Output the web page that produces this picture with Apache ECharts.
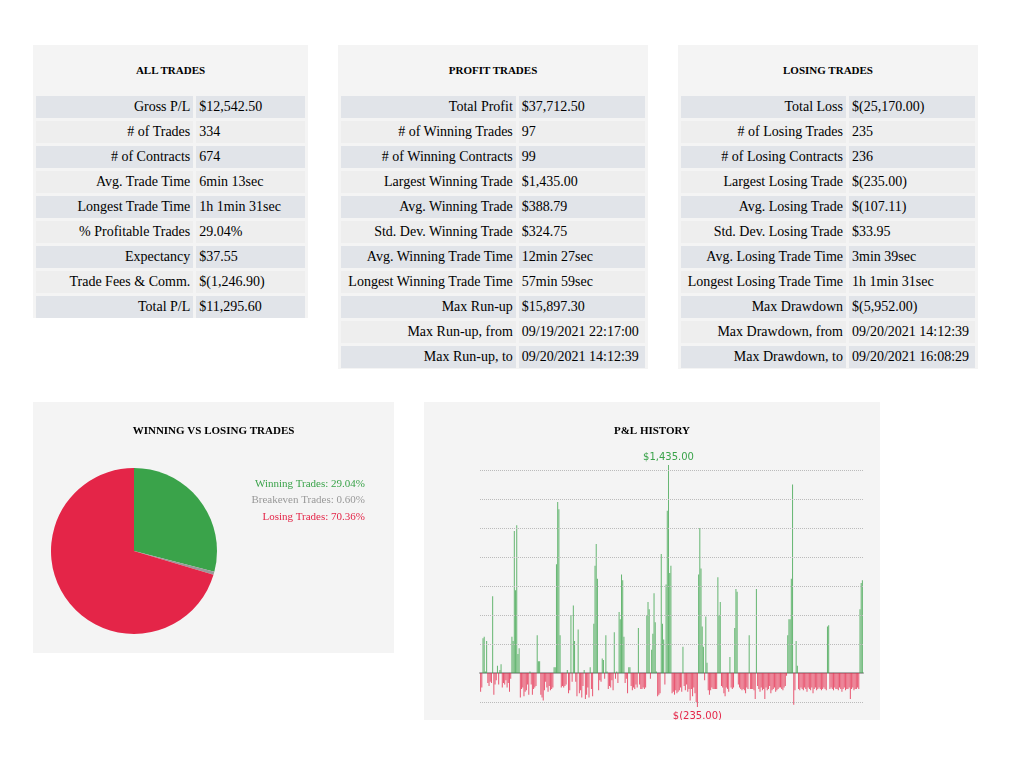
<!DOCTYPE html>
<html>
<head>
<meta charset="utf-8">
<script src="https://cdn.jsdelivr.net/npm/echarts@6/dist/echarts.min.js"></script>
<style>
body { margin: 0; background: #fff; font-family: "Liberation Serif", serif; }
.panel { position: absolute; background: #f4f4f4; }
.panel h3 { margin: 0; font-size: 11px; font-weight: bold; text-align: center; padding-top: 19px; height: 29px; }
table { border-spacing: 3px; width: 100%; font-size: 14px; margin-top: 0; }
td { height: 22px; padding: 0 3px; white-space: nowrap; }
td.l { text-align: right; }
tr:nth-child(odd) td { background: #e1e4e9; }
tr:nth-child(even) td { background: #eeeeee; }
</style>
</head>
<body>
<div class="panel" id="p1" style="left:33px;top:45px;width:275px;height:273px"></div>
<div class="panel" id="p2" style="left:338px;top:45px;width:310px;height:324px"></div>
<div class="panel" id="p3" style="left:678px;top:45px;width:300px;height:324px"></div>
<div class="panel" id="pie" style="left:33px;top:402px;width:361px;height:251px"></div>
<div class="panel" id="bars" style="left:424px;top:402px;width:456px;height:318px"></div>
<script>
const allTrades = [
  ['Gross P/L', '$12,542.50'], ['# of Trades', '334'], ['# of Contracts', '674'],
  ['Avg. Trade Time', '6min 13sec'], ['Longest Trade Time', '1h 1min 31sec'],
  ['% Profitable Trades', '29.04%'], ['Expectancy', '$37.55'],
  ['Trade Fees & Comm.', '$(1,246.90)'], ['Total P/L', '$11,295.60']
];
const profitTrades = [
  ['Total Profit', '$37,712.50'], ['# of Winning Trades', '97'], ['# of Winning Contracts', '99'],
  ['Largest Winning Trade', '$1,435.00'], ['Avg. Winning Trade', '$388.79'],
  ['Std. Dev. Winning Trade', '$324.75'], ['Avg. Winning Trade Time', '12min 27sec'],
  ['Longest Winning Trade Time', '57min 59sec'], ['Max Run-up', '$15,897.30'],
  ['Max Run-up, from', '09/19/2021 22:17:00'], ['Max Run-up, to', '09/20/2021 14:12:39']
];
const losingTrades = [
  ['Total Loss', '$(25,170.00)'], ['# of Losing Trades', '235'], ['# of Losing Contracts', '236'],
  ['Largest Losing Trade', '$(235.00)'], ['Avg. Losing Trade', '$(107.11)'],
  ['Std. Dev. Losing Trade', '$33.95'], ['Avg. Losing Trade Time', '3min 39sec'],
  ['Longest Losing Trade Time', '1h 1min 31sec'], ['Max Drawdown', '$(5,952.00)'],
  ['Max Drawdown, from', '09/20/2021 14:12:39'], ['Max Drawdown, to', '09/20/2021 16:08:29']
];
const pieNames = ['Winning Trades', 'Breakeven Trades', 'Losing Trades'];
const pieValues = [29.04, 0.60, 70.36];
const pieColors = ['#3aa34a', '#999999', '#e42548'];
const gridValues = [-200, 0, 200, 400, 600, 800, 1000, 1200, 1400];
const pnl = [
  -130, -100, 240, 250, 10, 220, -70, -90, -60, -70, 530, -150, -80, -50, 50, -80, 20, 60, -100, -70,
  -80, -50, -100, -70, -130, -40, 250, 220, 980, 570, 1020, 130, 170, -170, -110, -100, -160, -130, -120, -80,
  -150, 10, -80, -150, -110, -100, -90, 260, 80, 80, -150, -170, -190, -120, -60, -100, -130, -90, -120, -110,
  -100, 40, 40, 750, 1180, 1130, 260, -100, -90, -100, -90, -80, 20, -140, -120, 400, -60, 465, 220, -60,
  -160, 300, -140, -120, -170, -90, 20, -180, -150, -100, -170, 40, -110, -160, 340, 740, 890, 650, -120, -50,
  -60, 100, 90, -40, 260, 10, -110, -90, -100, -50, -120, 280, -40, 10, -70, 420, 370, 680, 640, 250,
  -70, -40, -140, 40, 40, -90, -120, -100, -110, -80, -100, 310, -80, -110, -110, -100, -110, -100, 400, 490,
  440, -40, 160, 270, 550, 350, 10, -160, -150, -140, 820, 340, 230, -80, 610, 1120, 1435, 690, 740, -140,
  -130, -150, -120, -140, -130, -120, -100, -130, 180, -90, -120, -80, -130, -110, -190, -110, -160, -100, -140, -200,
  -235, 680, 1000, 720, 320, 180, -50, 390, 70, -120, -150, -120, -100, -110, -110, -110, -110, 660, 400, 490,
  -90, -100, -140, -160, -100, -110, -130, 110, -100, -110, -100, 310, 580, 560, -80, -100, -110, -120, -110, -120,
  -140, -100, -110, 260, -110, -110, -110, -120, -180, 580, -90, -110, -130, -100, -120, -110, -180, -100, -120, -110,
  -90, -140, -120, -110, -100, -130, -120, -110, -100, -100, -110, -120, -100, -90, -20, 260, 370, 370, 650, 1300,
  -220, -120, 220, 50, -110, -120, -100, -110, -120, -100, -110, -130, -100, -110, -120, -100, -140, -110, -100, -120,
  -110, -100, -110, -120, -110, -100, -110, -120, 320, 330, -110, -100, -110, -120, -100, -110, -110, -120, -100, -110,
  -130, -110, -100, -120, -110, -110, -100, -180, -110, -100, -120, -110, -110, -100, -110, 440, 620, 640
];

function buildTable(id, title, rows) {
  let html = '<h3>' + title + '</h3><table>';
  rows.forEach(r => {
    html += '<tr><td class="l">' + r[0] + '</td><td>' + r[1] + '</td></tr>';
  });
  document.getElementById(id).innerHTML = html + '</table>';
}
buildTable('p1', 'ALL TRADES', allTrades);
buildTable('p2', 'PROFIT TRADES', profitTrades);
buildTable('p3', 'LOSING TRADES', losingTrades);

const titleStyle = { fontFamily: 'Liberation Serif', fontSize: 11, fontWeight: 'bold', color: '#000' };

const pieChart = echarts.init(document.getElementById('pie'));
pieChart.setOption({
  animation: false,
  title: { text: 'WINNING VS LOSING TRADES', left: 'center', top: 19, textStyle: titleStyle },
  legend: {
    orient: 'vertical', right: 19, top: 70, icon: 'none', itemWidth: 0, itemGap: 4, align: 'right',
    data: pieNames.map((n, i) => ({ name: n, textStyle: { color: pieColors[i] } })),
    textStyle: { fontFamily: 'Liberation Serif', fontSize: 11 },
    formatter: n => n + ': ' + pieValues[pieNames.indexOf(n)].toFixed(2) + '%'
  },
  series: [{
    type: 'pie', center: [101, 149], radius: 83, startAngle: 90, label: { show: false },
    data: pieNames.map((n, i) => ({ name: n, value: pieValues[i], itemStyle: { color: pieColors[i] } }))
  }]
});

const barChart = echarts.init(document.getElementById('bars'));
barChart.setOption({
  animation: false,
  title: { text: 'P&L HISTORY', left: 'center', top: 19, textStyle: titleStyle },
  grid: { left: 56, right: 17, top: 63, bottom: 13 },
  xAxis: {
    type: 'category', data: pnl.map((v, i) => i + 1),
    axisLine: { lineStyle: { color: '#aaaaaa', width: 2 } }, axisTick: { show: false }, axisLabel: { show: false }
  },
  yAxis: { type: 'value', min: -235, max: 1435, show: false, splitLine: { show: false } },
  series: [{
    type: 'bar', data: pnl, barCategoryGap: '15%',
    itemStyle: { color: p => p.value >= 0 ? 'rgba(58,163,74,0.75)' : 'rgba(228,37,72,0.75)' },
    markLine: {
      silent: true, symbol: 'none', label: { show: false },
      lineStyle: { type: 'dotted', color: '#bbbbbb', width: 1 },
      data: gridValues.filter(v => v !== 0).map(v => ({ yAxis: v }))
    },
    markPoint: {
      symbol: 'circle', symbolSize: 1, itemStyle: { color: 'transparent' },
      data: [
        { type: 'max', label: { position: 'top', distance: 2, color: '#3aa34a', fontSize: 10, fontFamily: 'DejaVu Sans', formatter: '$1,435.00' } },
        { type: 'min', label: { position: 'bottom', distance: 4, color: '#e42548', fontSize: 10, fontFamily: 'DejaVu Sans', formatter: '$(235.00)' } }
      ]
    }
  }]
});
</script>
</body>
</html>
